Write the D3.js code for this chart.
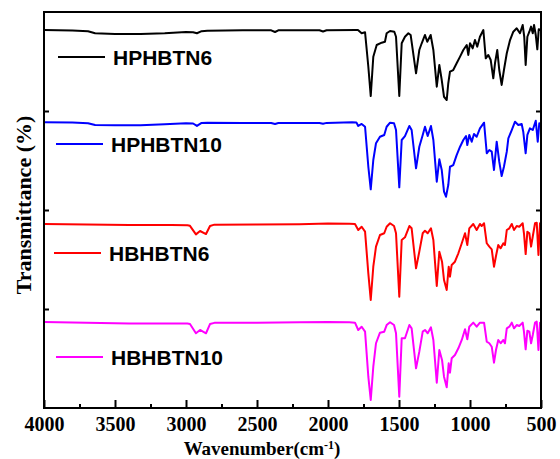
<!DOCTYPE html>
<html>
<head>
<meta charset="utf-8">
<script src="https://cdn.jsdelivr.net/npm/d3@7"></script>
<style>
  body { margin: 0; background: #fff; }
  svg { display: block; }
</style>
</head>
<body>
<svg id="chart" width="560" height="459"></svg>
<script>
// FTIR spectra, [wavenumber (cm-1), transmittance (%)].
// Each spectrum is shifted up by its offset so they stack.
var hphbtn6 = [
  [4000, 81.8], [3800, 81.3], [3690, 80.5], [3640, 78.5], [3500, 77.8], [3320, 77.8],
  [3150, 78.6], [3000, 79.8], [2950, 79.5], [2923, 78.5], [2890, 80.6], [2850, 81.1],
  [2600, 81.6], [2400, 81.5], [2373, 79.8], [2350, 81.5], [2060, 81.6], [2035, 80.3],
  [2010, 81.6], [1800, 81.8], [1789, 81.8], [1763, 78.5], [1739, 79.5], [1716, 44.7],
  [1699, 15.1], [1681, 54.8], [1657, 66.7], [1622, 69], [1599, 70], [1587, 78.5],
  [1563, 80.8], [1533, 80.1], [1521, 75], [1498, 15.1], [1481, 68.4], [1458, 75],
  [1434, 78.5], [1418, 76.8], [1380, 38.1], [1357, 61.6], [1340, 68.4], [1317, 76.8],
  [1301, 70], [1277, 76.8], [1258, 61.6], [1234, 24.5], [1216, 46.5], [1199, 31.3],
  [1183, 14.4], [1164, 11.1], [1153, 28], [1141, 39.7], [1118, 41.4], [1094, 48.2],
  [1070, 54.9], [1047, 61.6], [1023, 66.7], [1012, 56.6], [1000, 68.4], [981, 63.3],
  [965, 71.7], [949, 65], [930, 75], [906, 81.8], [889, 53.2], [871, 56.6],
  [854, 51.5], [836, 33], [824, 48.2], [808, 61.6], [794, 41.4], [777, 26.3],
  [761, 41.4], [741, 58.3], [718, 71.7], [695, 80.1], [671, 83.5], [648, 78.5],
  [629, 86.9], [618, 75], [608, 46.5], [596, 75], [582, 80.1], [570, 85.2],
  [558, 78.5], [549, 86.9], [537, 76.8], [526, 62.3], [516, 82.5], [500, 81.8]
];

var hphbtn10 = [
  [4000, 88.6], [3800, 88.4], [3690, 87.6], [3640, 85.8], [3500, 85.5], [3320, 85.5],
  [3150, 86.6], [3000, 87.6], [2950, 87.4], [2923, 84.9], [2890, 88], [2850, 88.2],
  [2600, 88], [2400, 87.9], [2373, 86.9], [2350, 87.9], [2060, 87.9], [2035, 87.2],
  [2010, 88], [1830, 88.6], [1800, 88.3], [1787, 84.9], [1763, 86.9], [1739, 84.1],
  [1716, 43.7], [1699, 20.9], [1681, 50.5], [1662, 67.4], [1634, 74], [1604, 75.8],
  [1587, 84.1], [1563, 88.2], [1535, 87.6], [1521, 80.8], [1498, 22.9], [1481, 70.7],
  [1458, 74.7], [1427, 84.9], [1411, 80.8], [1380, 42.1], [1357, 63.9], [1333, 75.8],
  [1317, 84.1], [1298, 74.7], [1275, 84.9], [1258, 70.7], [1234, 28.6], [1216, 51.2],
  [1199, 40.4], [1183, 18.5], [1169, 13.4], [1153, 25.2], [1141, 43.7], [1118, 45.4],
  [1094, 55.5], [1070, 63.9], [1047, 70.7], [1028, 74.7], [1019, 65.6], [1005, 75.8],
  [988, 69], [972, 76.8], [953, 74], [930, 82.5], [901, 88.2], [882, 57.3],
  [864, 60.6], [847, 58.9], [831, 40.4], [812, 69], [794, 48.8], [777, 34.3],
  [761, 43.7], [741, 58.9], [730, 72.4], [706, 80.8], [683, 89.2], [660, 85.9],
  [636, 86.9], [625, 79.1], [608, 57.3], [596, 75.8], [578, 82.5], [558, 80.8],
  [537, 90.2], [523, 69], [512, 87.6], [500, 85.9]
];

var hbhbtn6 = [
  [4000, 85.9], [3700, 85.4], [3400, 84.8], [3100, 84.8], [2990, 84.6], [2972, 84],
  [2930, 75.4], [2901, 78.8], [2859, 75.7], [2831, 83.8], [2800, 85.2], [2500, 85.4],
  [2200, 85.6], [2000, 86.3], [1850, 86], [1810, 85.9], [1787, 79.8], [1763, 83.1],
  [1739, 78.1], [1716, 36], [1699, 9.1], [1681, 42.7], [1662, 63], [1634, 74.7],
  [1604, 76.5], [1587, 83.1], [1563, 86.6], [1535, 83.8], [1521, 76.5], [1498, 12.4],
  [1481, 69.7], [1458, 72.4], [1427, 83.8], [1411, 81.5], [1380, 41.1], [1357, 57.9],
  [1333, 76.5], [1317, 79.1], [1298, 76.5], [1275, 81.5], [1258, 69.7], [1234, 23.2],
  [1216, 57.9], [1197, 47.8], [1183, 29.3], [1164, 19.2], [1150, 42.7], [1141, 32.6],
  [1129, 44.5], [1106, 47.8], [1082, 56.3], [1058, 66.4], [1035, 76.5], [1019, 64.6],
  [1005, 81.5], [977, 85.9], [953, 79.8], [930, 85.9], [918, 83.8], [901, 86.6],
  [882, 66.4], [864, 63], [847, 60.3], [831, 42.7], [817, 53.5], [801, 64.6],
  [784, 61.3], [765, 66.4], [754, 64.6], [741, 79.8], [723, 81.5], [706, 85.9],
  [690, 79.8], [671, 83.8], [653, 83.1], [629, 86.6], [620, 76.5], [608, 55.5],
  [596, 78.1], [582, 76.5], [570, 63], [558, 73.2], [542, 86.6], [530, 87.2],
  [518, 54.5], [507, 86.6], [500, 86]
];

var hbhbtn10 = [
  [4000, 86.9], [3700, 86.2], [3400, 85.3], [3100, 85.3], [2990, 85.3], [2972, 84.8],
  [2930, 75.5], [2901, 78.8], [2859, 75.5], [2831, 84.8], [2800, 86], [2500, 86.2],
  [2200, 86.5], [2000, 86.9], [1850, 86.5], [1810, 86.2], [1787, 78.8], [1763, 82.1],
  [1739, 77.1], [1716, 31.6], [1699, 8.1], [1681, 41.7], [1662, 65.4], [1634, 76.1],
  [1604, 77.1], [1587, 83.8], [1563, 86.6], [1535, 83.8], [1521, 75.5], [1498, 11.4],
  [1481, 70.4], [1458, 70.4], [1427, 83.8], [1411, 80.5], [1380, 40.1], [1357, 56.9],
  [1333, 77.1], [1317, 78.8], [1298, 75.5], [1275, 81.5], [1258, 68.7], [1234, 25.5],
  [1216, 58.6], [1197, 48.5], [1183, 31.6], [1164, 20.9], [1150, 45.1], [1141, 35.7],
  [1129, 50.2], [1106, 53.5], [1082, 60.3], [1058, 68.7], [1035, 79.5], [1019, 69.4],
  [1005, 82.1], [977, 86.2], [953, 82.1], [930, 86.2], [901, 86.2], [882, 67],
  [864, 65.4], [847, 61.9], [831, 45.8], [817, 58.6], [801, 68.7], [784, 65.4],
  [765, 68.7], [754, 65.4], [741, 80.5], [723, 82.1], [706, 86.2], [690, 80.5],
  [671, 83.8], [653, 82.8], [629, 86.2], [620, 77.1], [608, 59.3], [596, 78.1],
  [582, 77.1], [570, 65.4], [558, 73.7], [542, 86.2], [530, 87.2], [518, 58.6],
  [507, 86.2], [500, 86]
];

var seriesNames = ["HPHBTN6", "HPHBTN10", "HBHBTN6", "HBHBTN10"];
var seriesData = [hphbtn6, hphbtn10, hbhbtn6, hbhbtn10];
var seriesOffsets = [300, 200, 100, 0];

var xMajorTicks = [4000, 3500, 3000, 2500, 2000, 1500, 1000, 500];
var xMinorTicks = [3750, 3250, 2750, 2250, 1750, 1250, 750];
var yTicks = [100, 200, 300];

// styles / layout
var colors = ["#000000", "#0000ff", "#ff0000", "#ff00ff"];
var legendY = [57, 144, 253, 357];
var legendX = [58, 56, 54, 56];

var serif = "'Liberation Serif', 'Times New Roman', serif";
var sans = "'Liberation Sans', Arial, sans-serif";

var svg = d3.select("#chart");

var x = d3.scaleLinear().domain([4000, 500]).range([44, 541]);
var y = d3.scaleLinear().domain([0, 400]).range([408, 12]);

// spectra
var line = d3.line()
  .x(function (d) { return x(d[0]); })
  .y(function (d) { return y(d[1] + d.offset); });

seriesData.forEach(function (data, i) {
  var pts = data.map(function (d) {
    var p = [d[0], d[1]];
    p.offset = seriesOffsets[i];
    return p;
  });
  svg.append("path")
    .attr("d", line(pts))
    .attr("fill", "none")
    .attr("stroke", colors[i])
    .attr("stroke-width", 2)
    .attr("stroke-linejoin", "round");
});

// axes (ticks pointing inward)
var xAxis = svg.append("g")
  .attr("transform", "translate(0,408)")
  .call(d3.axisBottom(x).tickValues(xMajorTicks).tickSize(-8).tickPadding(9)
    .tickFormat(d3.format("d")));

svg.append("g")
  .attr("transform", "translate(0,408)")
  .call(d3.axisBottom(x).tickValues(xMinorTicks).tickSize(-4).tickFormat(""));

svg.append("g")
  .attr("transform", "translate(44,0)")
  .call(d3.axisLeft(y).tickValues(yTicks).tickSize(-5).tickFormat(""));

svg.append("g")
  .attr("transform", "translate(541,0)")
  .call(d3.axisRight(y).tickValues(yTicks).tickSize(-5).tickFormat(""));

svg.selectAll(".domain").remove();
svg.selectAll(".tick line").attr("stroke", "#000").attr("stroke-width", 2);

xAxis.attr("font-family", null).attr("font-size", null);
xAxis.selectAll("text")
  .attr("fill", "#000")
  .attr("font-family", serif)
  .attr("font-weight", "bold")
  .attr("font-size", 20);

// frame
svg.append("rect")
  .attr("x", 44).attr("y", 12)
  .attr("width", 497).attr("height", 396)
  .attr("fill", "none")
  .attr("stroke", "#000")
  .attr("stroke-width", 2);

// legend
seriesNames.forEach(function (name, i) {
  svg.append("line")
    .attr("x1", legendX[i]).attr("x2", legendX[i] + 47)
    .attr("y1", legendY[i]).attr("y2", legendY[i])
    .attr("stroke", colors[i])
    .attr("stroke-width", 2);
  svg.append("text")
    .attr("x", legendX[i] + 55)
    .attr("y", legendY[i] + 7.5)
    .attr("font-family", sans)
    .attr("font-weight", "bold")
    .attr("font-size", 21)
    .text(name);
});

// axis titles
var xt = svg.append("text")
  .attr("x", 262).attr("y", 454.5)
  .attr("text-anchor", "middle")
  .attr("font-family", serif)
  .attr("font-weight", "bold")
  .attr("font-size", 19);
xt.append("tspan").text("Wavenumber(cm");
xt.append("tspan").attr("dy", -6).attr("font-size", 12).text("-1");
xt.append("tspan").attr("dy", 6).text(")");

svg.append("text")
  .attr("transform", "translate(31,205) rotate(-90)")
  .attr("text-anchor", "middle")
  .attr("font-family", serif)
  .attr("font-weight", "bold")
  .attr("font-size", 22)
  .text("Transmittance (%)");
</script>
</body>
</html>
